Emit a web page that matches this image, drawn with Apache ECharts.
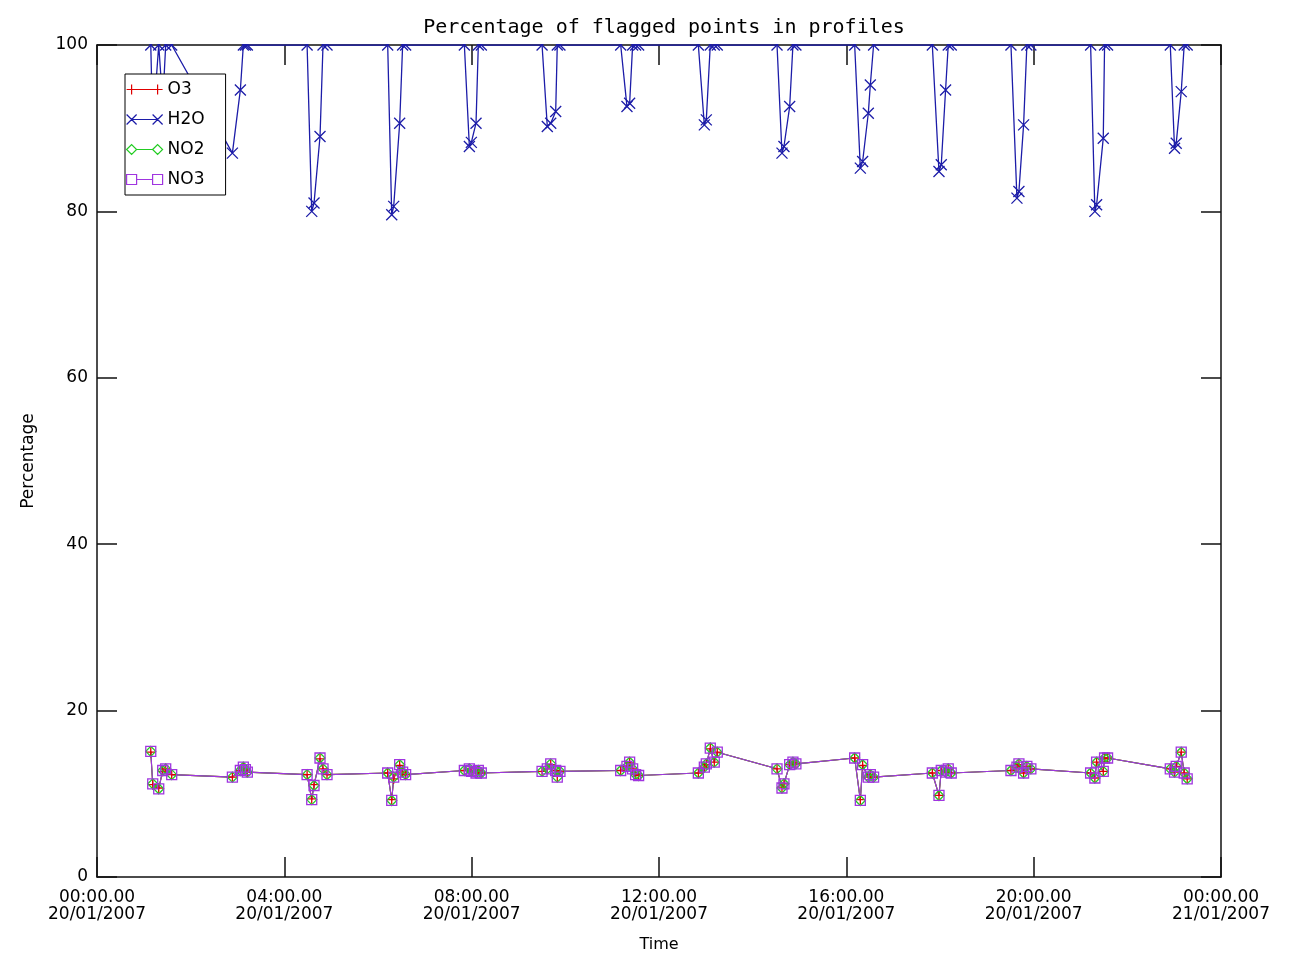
<!DOCTYPE html>
<html><head><meta charset="utf-8">
<script src="https://cdn.jsdelivr.net/npm/echarts@6/dist/echarts.min.js"></script>
<style>html,body{margin:0;padding:0;background:#fff}#c{width:1296px;height:959px}</style>
</head><body><div id="c"></div>
<script>
// Profile times in hours after 00:00 20/01/2007
const timesHours = [
  1.148, 1.190, 1.318, 1.403, 1.467, 1.595,
  2.891, 3.061, 3.125, 3.168, 3.210,
  4.486, 4.585, 4.634, 4.762, 4.826, 4.911,
  6.207, 6.293, 6.335, 6.463, 6.526, 6.590,
  7.844, 7.951, 7.993, 8.093, 8.142, 8.206,
  9.503, 9.615, 9.688, 9.794, 9.828, 9.885,
  11.182, 11.316, 11.373, 11.437, 11.501, 11.565,
  12.840, 12.968, 13.010, 13.095, 13.180, 13.244,
  14.520, 14.626, 14.668, 14.790, 14.860, 14.923,
  16.178, 16.299, 16.348, 16.469, 16.512, 16.582,
  17.836, 17.978, 18.027, 18.119, 18.176, 18.240,
  19.515, 19.643, 19.685, 19.785, 19.855, 19.940,
  21.216, 21.307, 21.344, 21.486, 21.514, 21.578,
  22.917, 23.008, 23.044, 23.151, 23.214, 23.278
];
const h2oValues = [
  100, 90, 100, 93, 100, 100,
  87.0, 94.6, 100, 100, 100,
  100, 80.0, 81.0, 89.0, 100, 100,
  100, 79.6, 80.6, 90.6, 100, 100,
  100, 87.8, 88.3, 90.6, 100, 100,
  100, 90.2, 90.6, 92.0, 100, 100,
  100, 92.6, 93.0, 100, 100, 100,
  100, 90.4, 91.0, 100, 100, 100,
  100, 87.0, 87.8, 92.6, 100, 100,
  100, 85.2, 86.0, 91.8, 95.2, 100,
  100, 84.8, 85.6, 94.6, 100, 100,
  100, 81.6, 82.4, 90.4, 100, 100,
  100, 80.0, 80.8, 88.8, 100, 100,
  100, 87.6, 88.2, 94.4, 100, 100
];
const o3Values = [
  15.0, 11.1, 10.7, 12.7, 13.0, 12.3,
  12.0, 12.8, 13.1, 12.9, 12.6,
  12.3, 9.4, 11.1, 14.2, 13.0, 12.3,
  12.5, 9.3, 11.8, 13.4, 12.6, 12.3,
  12.8, 13.0, 12.7, 12.5, 12.8, 12.5,
  12.7, 13.0, 13.5, 12.8, 12.1, 12.7,
  12.8, 13.3, 13.7, 13.0, 12.3, 12.2,
  12.5, 13.2, 13.5, 15.4, 13.8, 15.0,
  13.0, 10.8, 11.2, 13.5, 13.7, 13.6,
  14.3, 9.3, 13.4, 12.0, 12.3, 12.0,
  12.5, 9.8, 12.8, 12.6, 13.0, 12.5,
  12.8, 13.2, 13.5, 12.5, 13.3, 13.0,
  12.5, 11.9, 13.8, 12.7, 14.2, 14.3,
  13.0, 12.6, 13.3, 15.0, 12.5, 11.8
];
const no2Values = [
  15.1, 11.2, 10.6, 12.8, 13.0, 12.3,
  12.0, 12.8, 13.2, 12.9, 12.6,
  12.3, 9.3, 11.0, 14.3, 13.0, 12.3,
  12.5, 9.2, 12.0, 13.5, 12.6, 12.3,
  12.8, 13.0, 12.7, 12.5, 12.8, 12.5,
  12.7, 13.0, 13.6, 12.8, 12.0, 12.7,
  12.8, 13.3, 13.8, 13.0, 12.3, 12.2,
  12.5, 13.2, 13.6, 15.5, 13.8, 15.0,
  13.0, 10.7, 11.2, 13.5, 13.8, 13.6,
  14.3, 9.2, 13.5, 12.0, 12.3, 12.0,
  12.5, 9.8, 12.8, 12.6, 13.0, 12.5,
  12.8, 13.2, 13.6, 12.5, 13.3, 13.0,
  12.5, 11.9, 13.8, 12.7, 14.3, 14.3,
  13.0, 12.6, 13.3, 15.0, 12.5, 11.8
];
const no3Values = [
  15.1, 11.2, 10.6, 12.8, 13.0, 12.3,
  12.0, 12.8, 13.2, 12.9, 12.6,
  12.3, 9.3, 11.0, 14.3, 13.0, 12.3,
  12.5, 9.2, 12.0, 13.5, 12.6, 12.3,
  12.8, 13.0, 12.7, 12.5, 12.8, 12.5,
  12.7, 13.0, 13.6, 12.8, 12.0, 12.7,
  12.8, 13.3, 13.8, 13.0, 12.3, 12.2,
  12.5, 13.2, 13.6, 15.5, 13.8, 15.0,
  13.0, 10.7, 11.2, 13.5, 13.8, 13.6,
  14.3, 9.2, 13.5, 12.0, 12.3, 12.0,
  12.5, 9.8, 12.8, 12.6, 13.0, 12.5,
  12.8, 13.2, 13.6, 12.5, 13.3, 13.0,
  12.5, 11.9, 13.8, 12.7, 14.3, 14.3,
  13.0, 12.6, 13.3, 15.0, 12.5, 11.8
];
const xTickTimes = ['00:00.00','04:00.00','08:00.00','12:00.00','16:00.00','20:00.00','00:00.00'];
const xTickDates = ['20/01/2007','20/01/2007','20/01/2007','20/01/2007','20/01/2007','20/01/2007','21/01/2007'];
const seriesNames = ['O3','H2O','NO2','NO3'];

const FONT = 'DejaVu Sans';
const COL = { O3: '#e00000', H2O: '#1c1ca8', NO2: '#22cc22', NO3: '#a035e0' };
const SYM = {
  O3: 'path://M5,0 L5,10 M0,5 L10,5',
  H2O: 'path://M0,0 L10,10 M10,0 L0,10',
  NO2: 'path://M5,0 L10,5 L5,10 L0,5 Z',
  NO3: 'path://M0,0 L10,0 L10,10 L0,10 Z'
};
const LEG = {
  O3: 'path://M0,5 L36,5 M5,0 L5,10 M31,0 L31,10',
  H2O: 'path://M0,0 L10,10 M10,0 L0,10 M5,5 L31,5 M26,0 L36,10 M36,0 L26,10',
  NO2: 'path://M0,5 L5,0 L10,5 L5,10 Z M10,5 L26,5 M26,5 L31,0 L36,5 L31,10 Z',
  NO3: 'path://M0,0 L10,0 L10,10 L0,10 Z M10,5 L26,5 M26,0 L36,0 L36,10 L26,10 Z'
};
const valuesByName = { O3: o3Values, H2O: h2oValues, NO2: no2Values, NO3: no3Values };

function mkSeries(name) {
  return {
    name, type: 'line', xAxisIndex: 0, yAxisIndex: 0,
    data: timesHours.map((t, i) => [t, valuesByName[name][i]]),
    symbol: SYM[name], symbolSize: name === 'H2O' ? 11 : 10,
    showAllSymbol: true, animation: false, silent: true,
    lineStyle: { color: COL[name], width: name === 'H2O' ? 1.3 : 1.1 },
    itemStyle: { color: 'rgba(0,0,0,0)', borderColor: COL[name], borderWidth: 1.3 },
    emphasis: { disabled: true }
  };
}

const axisLineStyle = { color: '#111', width: 1.5 };
const chart = echarts.init(document.getElementById('c'), null, { renderer: 'canvas' });
chart.setOption({
  animation: false,
  backgroundColor: '#fff',
  title: {
    text: 'Percentage of flagged points in profiles',
    left: 659, top: 13, textAlign: 'center', z: 20,
    textStyle: { fontFamily: 'DejaVu Sans Mono', fontSize: 20, fontWeight: 'normal', color: '#000' }
  },
  grid: { left: 97, right: 75, top: 45, bottom: 82, containLabel: false },
  legend: {
    left: 125, top: 74, orient: 'vertical', selectedMode: false,
    itemWidth: 36, itemHeight: 10, itemGap: 13,
    padding: [7, 21, 7, 1],
    borderColor: '#000', borderWidth: 1, backgroundColor: '#fff',
    textStyle: { fontFamily: FONT, fontSize: 17, color: '#000' },
    z: 30,
    data: seriesNames.map(n => ({
      name: n, icon: LEG[n],
      itemStyle: { color: 'rgba(0,0,0,0)', borderColor: COL[n], borderWidth: 1.2 }
    }))
  },
  xAxis: [
    {
      type: 'value', min: 0, max: 24, interval: 4, position: 'bottom',
      name: 'Time', nameLocation: 'middle', nameGap: 60,
      nameTextStyle: { fontFamily: FONT, fontSize: 16, color: '#000' },
      axisLine: { show: true, onZero: false, lineStyle: axisLineStyle },
      axisTick: { show: true, inside: true, length: 20, lineStyle: axisLineStyle },
      axisLabel: {
        margin: 12, fontFamily: FONT, fontSize: 17, color: '#000', lineHeight: 17,
        formatter: v => { const i = Math.round(v / 4); return xTickTimes[i] + '\n' + xTickDates[i]; }
      },
      splitLine: { show: false }
    },
    {
      type: 'value', min: 0, max: 24, interval: 4, position: 'top',
      axisLine: { show: true, onZero: false, lineStyle: axisLineStyle },
      axisTick: { show: true, inside: true, length: 20, lineStyle: axisLineStyle },
      axisLabel: { show: false }, splitLine: { show: false }
    }
  ],
  yAxis: [
    {
      type: 'value', min: 0, max: 100, interval: 20, position: 'left',
      name: 'Percentage', nameLocation: 'middle', nameGap: 60, nameRotate: 90,
      nameTextStyle: { fontFamily: FONT, fontSize: 17, color: '#000' },
      axisLine: { show: true, onZero: false, lineStyle: axisLineStyle },
      axisTick: { show: true, inside: true, length: 20, lineStyle: axisLineStyle },
      axisLabel: { margin: 9, fontFamily: FONT, fontSize: 17, color: '#000' },
      splitLine: { show: false }
    },
    {
      type: 'value', min: 0, max: 100, interval: 20, position: 'right',
      axisLine: { show: true, onZero: false, lineStyle: axisLineStyle },
      axisTick: { show: true, inside: true, length: 20, lineStyle: axisLineStyle },
      axisLabel: { show: false }, splitLine: { show: false }
    }
  ],
  graphic: [
    { type: 'rect', z: 10, silent: true, shape: { x: 96, y: 0, width: 1127, height: 44 }, style: { fill: '#fff' } }
  ],
  series: seriesNames.map(mkSeries)
});
</script>
</body></html>
